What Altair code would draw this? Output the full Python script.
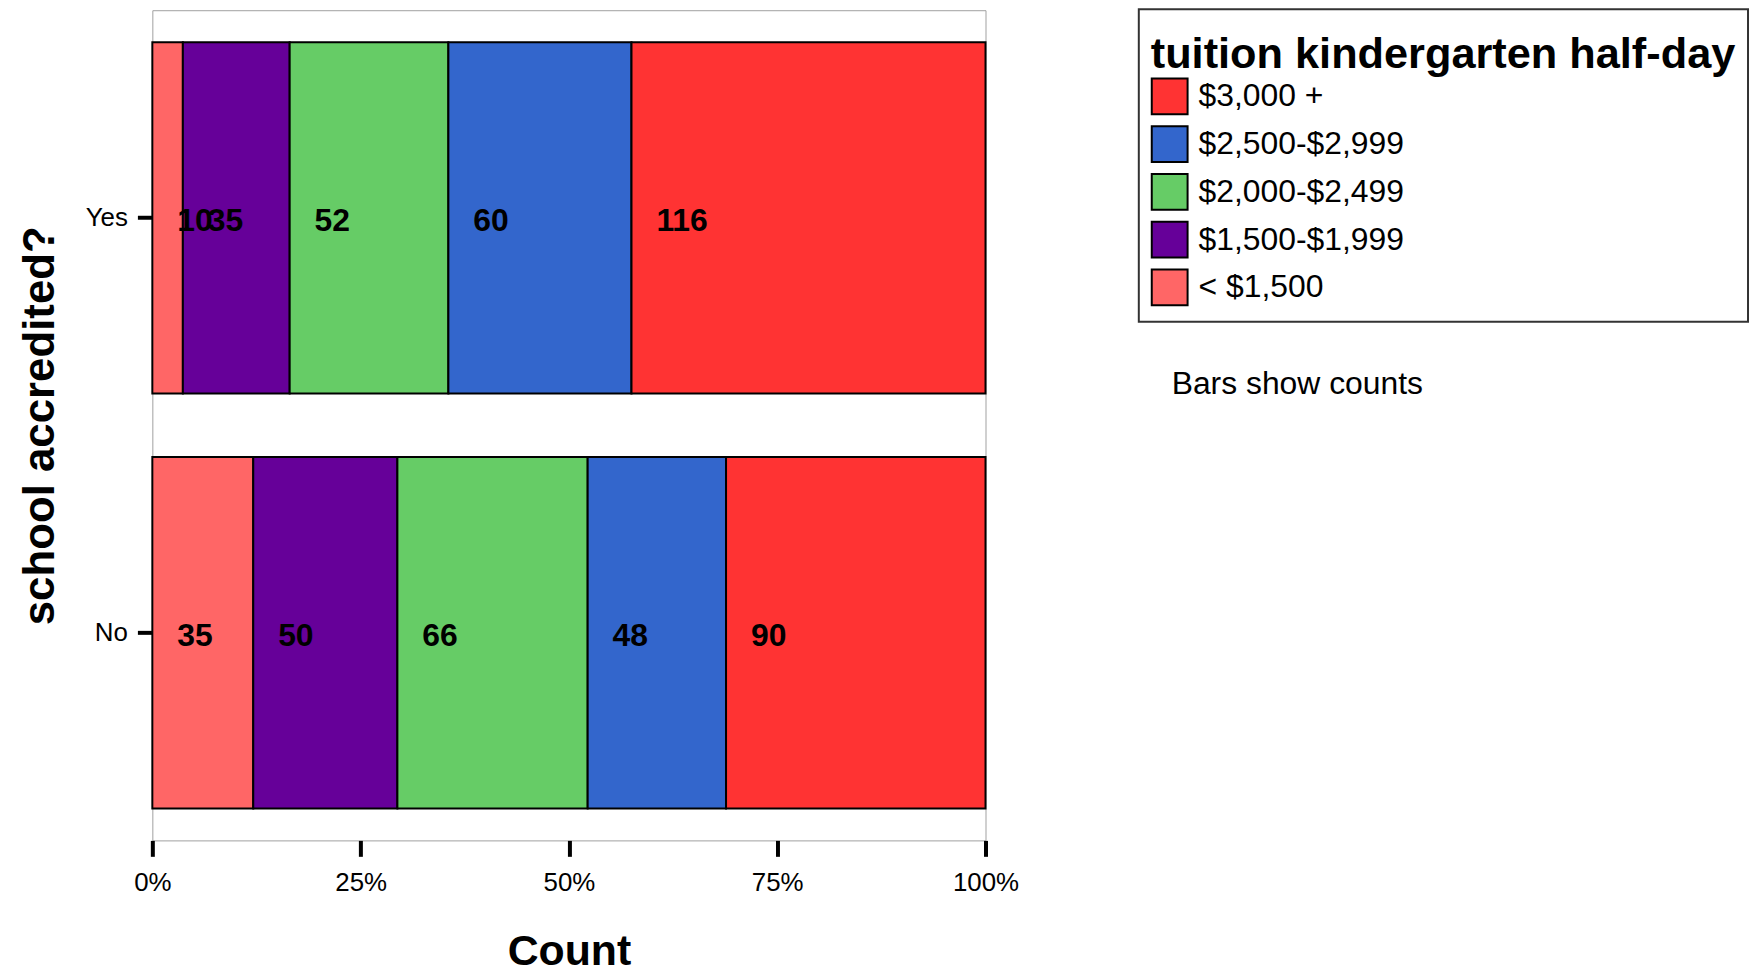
import altair as alt
import pandas as pd

groups = ["Yes", "No"]
categories = ["< $1,500", "$1,500-$1,999", "$2,000-$2,499", "$2,500-$2,999", "$3,000 +"]
counts_yes = [10, 35, 52, 60, 116]
counts_no = [35, 50, 66, 48, 90]
colors = ["#FF6666", "#660099", "#66CC66", "#3366CC", "#FF3333"]
x_ticks = [0, 0.25, 0.5, 0.75, 1]
footnote_text = ["Bars show counts"]

rows = []
for g, vals in zip(groups, [counts_yes, counts_no]):
    for i, (c, v) in enumerate(zip(categories, vals)):
        rows.append({"accredited": g, "tuition": c, "order": i, "count": v})
df = pd.DataFrame(rows)

legend_domain = categories[::-1]
legend_range = colors[::-1]

xscale = alt.Scale(domain=[0, 1], nice=False, zero=True)
yscale = alt.Scale(paddingInner=0.153, paddingOuter=0.077)

xaxis = alt.Axis(values=x_ticks, format=".0%", domain=False, grid=False,
                 tickColor="black", tickWidth=4, tickSize=16,
                 labelFontSize=26, labelPadding=13, labelColor="black", labelFlush=False,
                 titleFontSize=43, titleFontWeight="bold", titleColor="black",
                 titleY=112, titleBaseline="middle")
yaxis = alt.Axis(domain=False, grid=False, tickColor="black", tickWidth=4, tickSize=15,
                 labelFontSize=26, labelPadding=10, labelColor="black",
                 titleFontSize=44, titleFontWeight="bold", titleColor="black",
                 titleX=-112, titleY=417, titleBaseline="middle")

base = alt.Chart(df).transform_stack(
    stack="count", groupby=["accredited"],
    sort=[alt.SortField("order", order="ascending")],
    as_=["x0", "x1"], offset="normalize")

bars = base.mark_bar(stroke="black", strokeWidth=2, opacity=1).encode(
    x=alt.X("x0:Q", scale=xscale, axis=xaxis, title="Count"),
    x2="x1:Q",
    y=alt.Y("accredited:N", sort=groups, scale=yscale, axis=yaxis, title="school accredited?"),
    color=alt.Color("tuition:N",
                    scale=alt.Scale(domain=legend_domain, range=legend_range),
                    legend=alt.Legend(orient="none", legendX=991, legendY=-1,
                                      direction="vertical",
                                      title="tuition kindergarten half-day",
                                      titleFontSize=43.5, titleFontWeight="bold",
                                      titleColor="black", titleLimit=1000, titlePadding=13,
                                      titleBaseline="line-top", titleLineHeight=68,
                                      labelFontSize=32, labelColor="black", labelLimit=1000,
                                      labelOffset=10, symbolType="square", symbolSize=1296,
                                      symbolStrokeColor="black", symbolStrokeWidth=2,
                                      symbolOpacity=1, rowPadding=4)),
)

labels = base.mark_text(align="left", baseline="middle", dx=25, dy=3, fontSize=32,
                        fontWeight="bold", color="black").encode(
    x=alt.X("x0:Q", scale=xscale, axis=xaxis, title="Count"),
    y=alt.Y("accredited:N", sort=groups, scale=yscale, axis=yaxis, title="school accredited?"),
    text="count:Q",
)

note = alt.Chart(pd.DataFrame({"note": footnote_text})).mark_text(
    align="left", baseline="middle", fontSize=32, color="black").encode(
    x=alt.value(1024), y=alt.value(376), text="note:N")

chart = alt.layer(bars, labels, note).properties(
    width=837, height=834,
    autosize=alt.AutoSizeParams(type="none"),
    padding={"left": 145, "top": 0, "right": 769, "bottom": 132},
).configure(font="Liberation Sans").configure_view(
    stroke="#a0a0a0", strokeWidth=1
).configure_legend(
    strokeColor="#333333", strokeWidth=2, padding=12
)

chart.save("out.html", embed_options={"renderer": "svg", "actions": False})
